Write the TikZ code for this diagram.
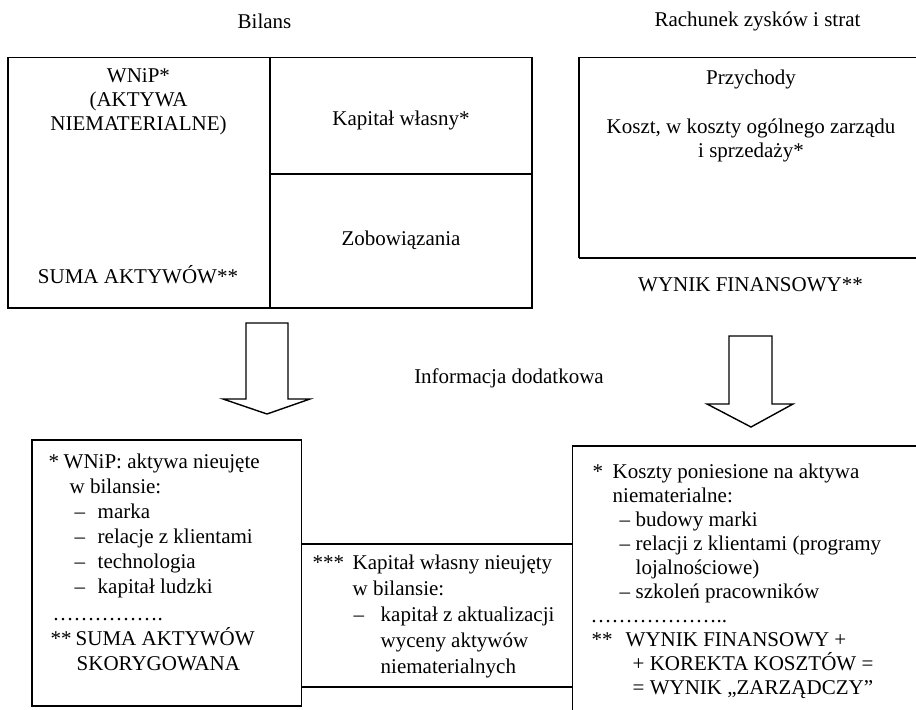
\documentclass[tikz,border=0pt]{standalone}
\usepackage{fontspec}
\setmainfont{Liberation Serif}

\begin{document}
\begin{tikzpicture}[x=25pt, y=25pt, line width=0.7pt,
    every node/.style={font=\fontsize{10.5}{12}\selectfont, align=center},
    note/.style={anchor=north west, inner sep=0pt, align=left}]
  \useasboundingbox (0.0, 0.0) rectangle (18.32, 14.18);
  \clip (0.0, 0.0) rectangle (18.32, 14.18);

  \node (bil)  at ( 5.29, 13.76) {Bilans};
  \node (rzis) at (15.15, 13.76) {Rachunek zysków i strat};

  \draw (0.16, 8.02) rectangle (10.64, 13.03);
  \draw (5.40, 8.02) -- (5.40, 13.03);
  \draw (5.40, 10.70) -- (10.64, 10.70);

  \node (wnip) at (2.77, 12.14) {WNiP*\\(AKTYWA\\NIEMATERIALNE)};
  \node (suma) at (2.76,  8.68) {SUMA AKTYWÓW**};
  \node (kw)   at (8.02, 11.78) {Kapitał własny*};
  \node (zob)  at (8.02,  9.38) {Zobowiązania};

  \draw (11.58, 9.02) -- (18.50, 9.02);
  \draw (18.50, 13.03) -- (11.58, 13.03) -- (11.58, 9.02);

  \node (przych) at (15.02, 12.60) {Przychody};
  \node (koszt)  at (15.02, 11.38) {Koszt, w koszty ogólnego zarządu\\i sprzedaży*};
  \node (wynik)  at (15.01,  8.48) {WYNIK FINANSOWY**};

  \draw (4.92, 7.72) -- (5.76, 7.72) -- (5.76, 6.20) -- (6.20, 6.20)
     -- (5.34, 5.90) -- (4.46, 6.20) -- (4.92, 6.20) -- cycle;
  \draw (14.58, 7.46) -- (15.44, 7.46) -- (15.44, 6.10) -- (15.86, 6.10)
     -- (15.02, 5.64) -- (14.14, 6.10) -- (14.58, 6.10) -- cycle;

  \node (info) at (10.18, 6.62) {Informacja dodatkowa};

  \draw (0.64, 0.06) rectangle (6.03, 5.38);
  \draw (6.03, 0.44) rectangle (11.45, 3.30);
  \draw (18.50, 5.26) -- (11.45, 5.26) -- (11.45, -0.50);

  \node[note, font=\fontsize{10.5}{12.5}\selectfont] (nwnip) at (0.96, 5.12) {%
    \makebox[7.5pt][l]{*}WNiP: aktywa nieujęte\\
    \hspace*{10.5pt}w bilansie:\\
    \hspace*{13pt}\makebox[11.5pt][l]{–}marka\\
    \hspace*{13pt}\makebox[11.5pt][l]{–}relacje z klientami\\
    \hspace*{13pt}\makebox[11.5pt][l]{–}technologia\\
    \hspace*{13pt}\makebox[11.5pt][l]{–}kapitał ludzki\\[1pt]
    \hspace*{2pt}…………….\\
    \hspace*{1pt}\makebox[12.5pt][l]{**}SUMA AKTYWÓW\\
    \hspace*{14pt}SKORYGOWANA};

  \node[note, font=\fontsize{10.5}{13}\selectfont] (nkw) at (6.24, 3.09) {%
    \makebox[20pt][l]{***}Kapitał własny nieujęty\\
    \hspace*{20pt}w bilansie:\\
    \hspace*{20.5pt}\makebox[13.5pt][l]{–}kapitał z aktualizacji\\
    \hspace*{34pt}wyceny aktywów\\
    \hspace*{34pt}niematerialnych};

  \node[note] (nkoszt) at (11.80, 4.92) {%
    \hspace*{1pt}\makebox[10pt][l]{*}Koszty poniesione na aktywa\\
    \hspace*{11pt}niematerialne:\\
    \hspace*{14.5pt}\makebox[8pt][l]{–}budowy marki\\
    \hspace*{14.5pt}\makebox[8pt][l]{–}relacji z klientami (programy\\
    \hspace*{22.5pt}lojalnościowe)\\
    \hspace*{14.5pt}\makebox[8pt][l]{–}szkoleń pracowników\\
    ………………..\\
    \hspace*{0.5pt}\makebox[17pt][l]{**}WYNIK FINANSOWY +\\
    \hspace*{21pt}+ KOREKTA KOSZTÓW =\\
    \hspace*{21pt}= WYNIK „ZARZĄDCZY”};
\end{tikzpicture}
\end{document}
